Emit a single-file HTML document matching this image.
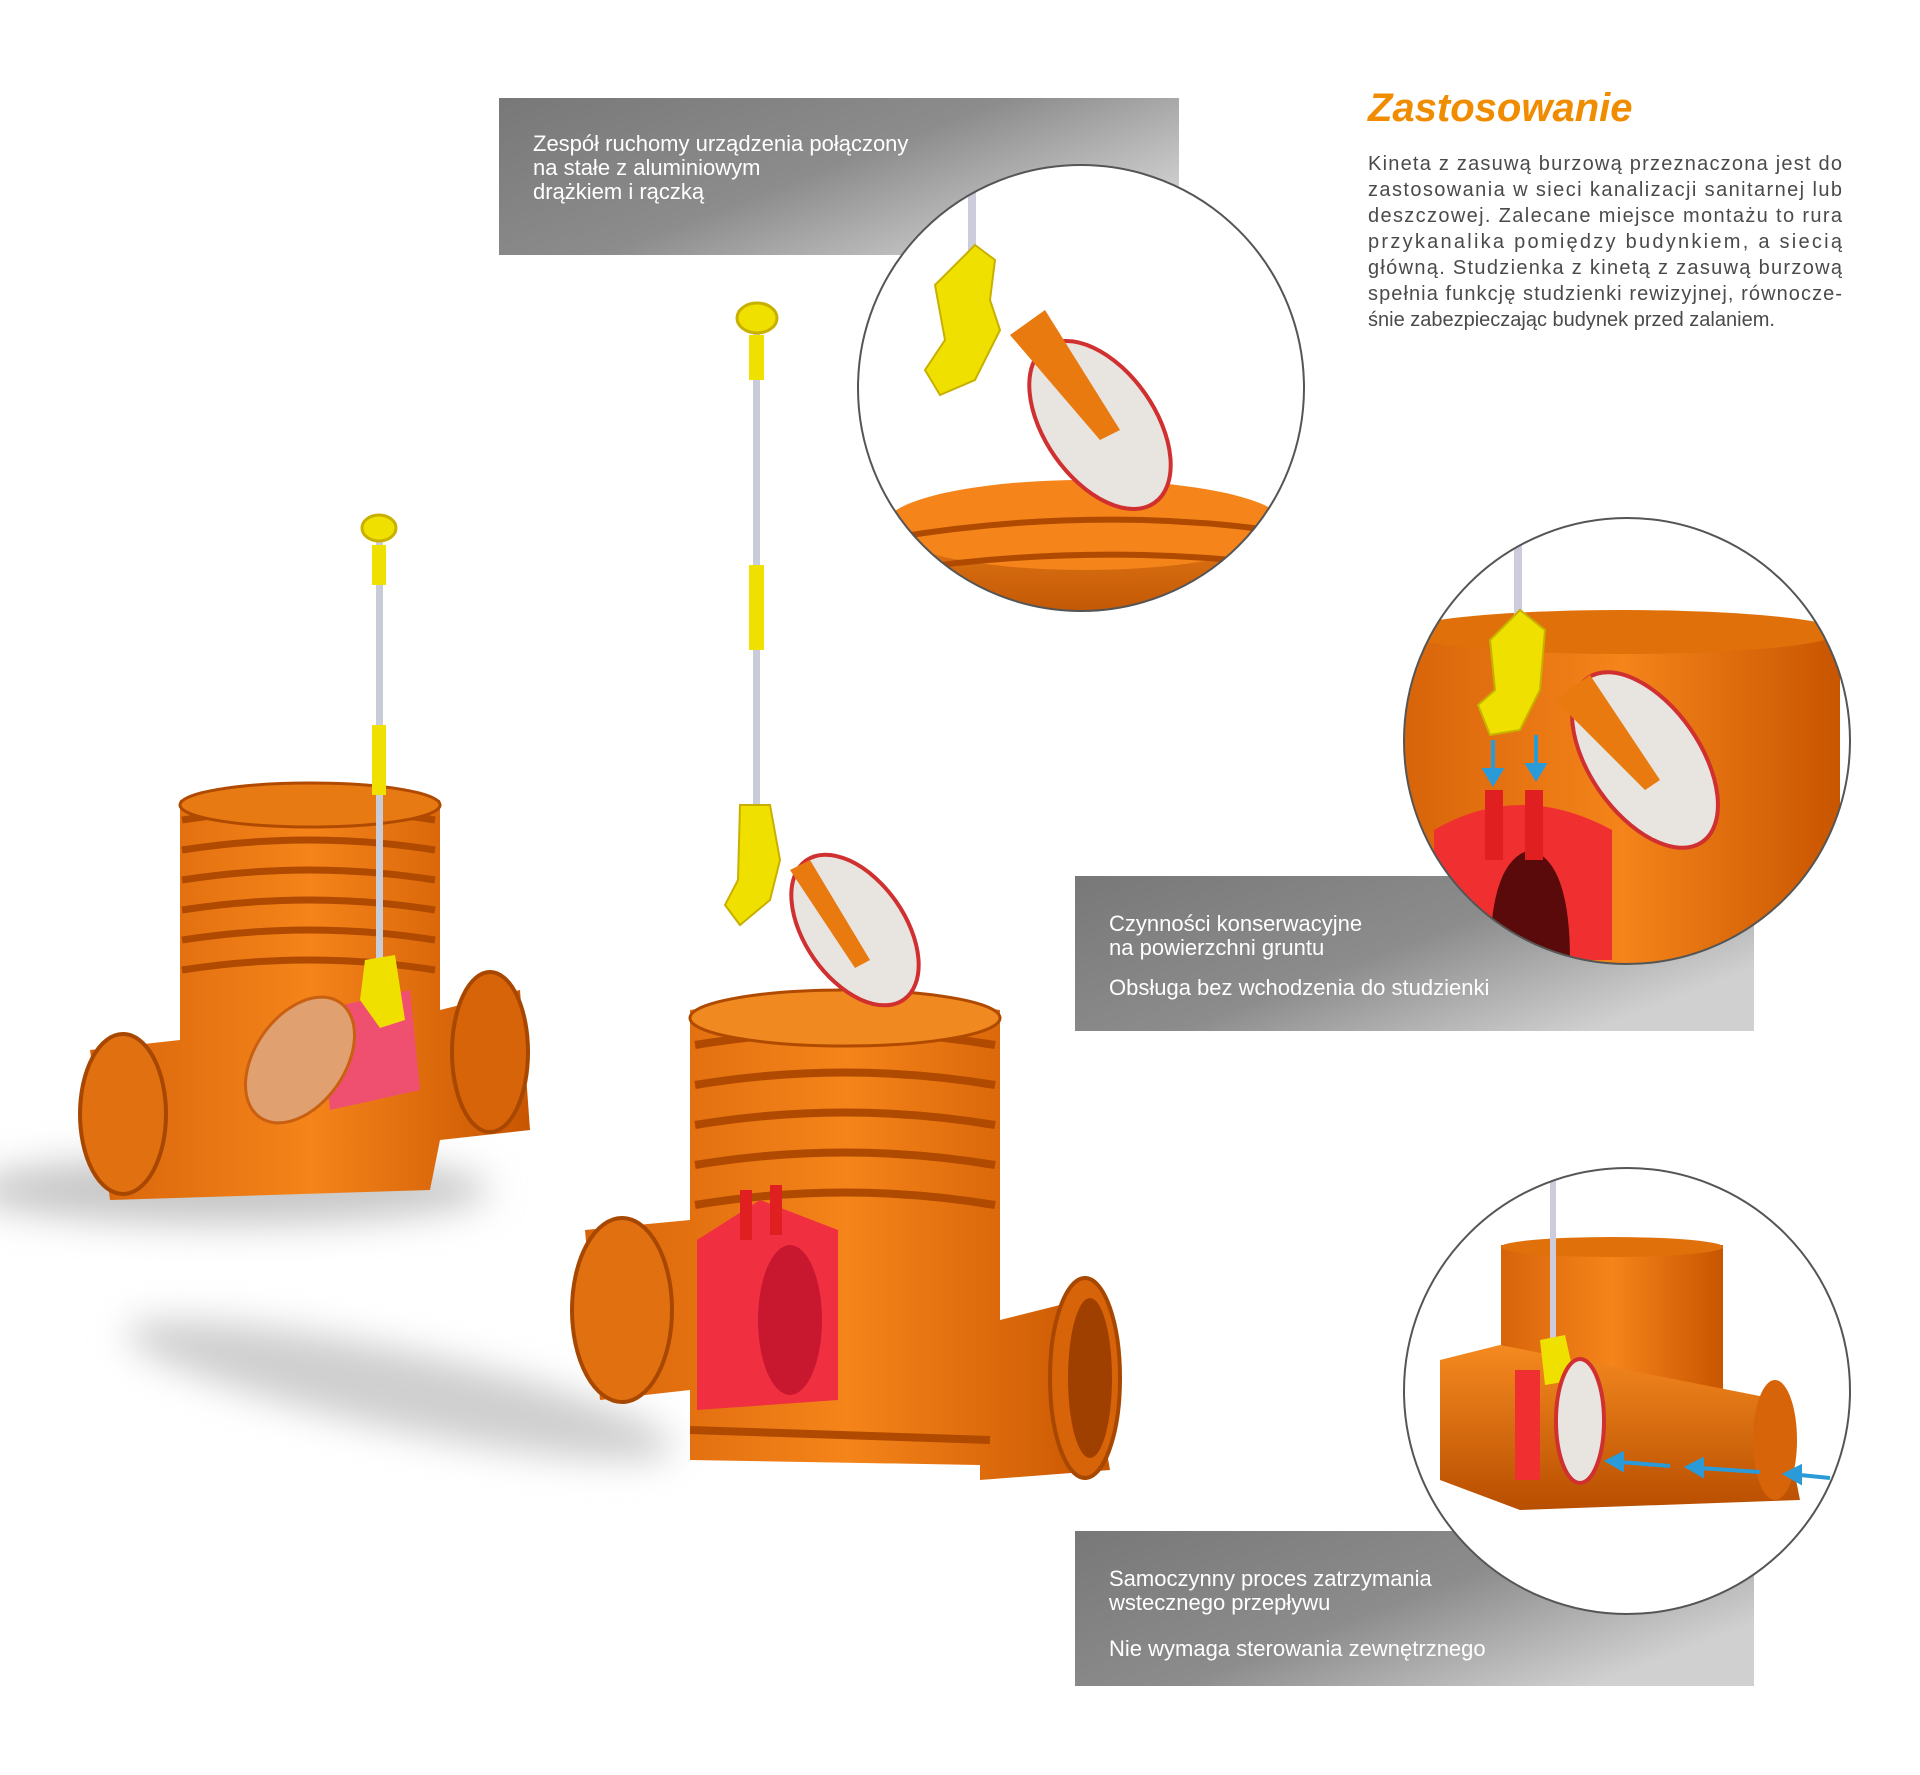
<!DOCTYPE html>
<html><head><meta charset="utf-8"><style>
html,body{margin:0;padding:0;background:#fff}
svg{display:block}
text{font-family:"Liberation Sans","DejaVu Sans",sans-serif}
</style></head><body>
<svg width="1920" height="1775" viewBox="0 0 1920 1775" xmlns="http://www.w3.org/2000/svg">
<defs>
<linearGradient id="gb" x1="0" y1="0" x2="1" y2="0.6">
<stop offset="0" stop-color="#787878"/><stop offset="0.55" stop-color="#8c8c8c"/><stop offset="1" stop-color="#d0d0d0"/></linearGradient>
<linearGradient id="or" x1="0" y1="0" x2="1" y2="0">
<stop offset="0" stop-color="#d8640a"/><stop offset="0.5" stop-color="#f5841a"/><stop offset="1" stop-color="#c85500"/></linearGradient>
<linearGradient id="orv" x1="0" y1="0" x2="0" y2="1">
<stop offset="0" stop-color="#f58a20"/><stop offset="1" stop-color="#b84e00"/></linearGradient>
<filter id="bl" x="-50%" y="-50%" width="200%" height="200%"><feGaussianBlur stdDeviation="18"/></filter>
<clipPath id="c1"><circle cx="1081" cy="388" r="223"/></clipPath>
<clipPath id="c2"><circle cx="1627" cy="741" r="223"/></clipPath>
<clipPath id="c3"><circle cx="1627" cy="1391" r="223"/></clipPath>
</defs>

<ellipse cx="230" cy="1190" rx="260" ry="35" fill="#c8c8c8" filter="url(#bl)"/>
<ellipse cx="400" cy="1390" rx="280" ry="40" fill="#cfcfcf" filter="url(#bl)" transform="rotate(12 400 1390)"/>

<rect x="499" y="98" width="680" height="157" fill="url(#gb)"/>
<rect x="1075" y="876" width="679" height="155" fill="url(#gb)"/>
<rect x="1075" y="1531" width="679" height="155" fill="url(#gb)"/>

<g fill="#fff" font-size="22">
<text x="533" y="151">Zespół ruchomy urządzenia połączony</text>
<text x="533" y="175">na stałe z aluminiowym</text>
<text x="533" y="199">drążkiem i rączką</text>
<text x="1109" y="931">Czynności konserwacyjne</text>
<text x="1109" y="955">na powierzchni gruntu</text>
<text x="1109" y="995">Obsługa bez wchodzenia do studzienki</text>
<text x="1109" y="1586">Samoczynny proces zatrzymania</text>
<text x="1109" y="1610">wstecznego przepływu</text>
<text x="1109" y="1656">Nie wymaga sterowania zewnętrznego</text>
</g>

<text x="1368" y="121" font-size="40" font-style="italic" font-weight="bold" fill="#f08c00">Zastosowanie</text>
<g font-size="20" fill="#4a4a4a">
<text x="1368" y="170" textLength="474" lengthAdjust="spacing">Kineta z zasuwą burzową przeznaczona jest do</text>
<text x="1368" y="196" textLength="474" lengthAdjust="spacing">zastosowania w sieci kanalizacji sanitarnej lub</text>
<text x="1368" y="222" textLength="474" lengthAdjust="spacing">deszczowej. Zalecane miejsce montażu to rura</text>
<text x="1368" y="248" textLength="474" lengthAdjust="spacing">przykanalika pomiędzy budynkiem, a siecią</text>
<text x="1368" y="274" textLength="474" lengthAdjust="spacing">główną. Studzienka z kinetą z zasuwą burzową</text>
<text x="1368" y="300" textLength="474" lengthAdjust="spacing">spełnia funkcję studzienki rewizyjnej, równocze-</text>
<text x="1368" y="326">śnie zabezpieczając budynek przed zalaniem.</text>
</g>

<circle cx="1081" cy="388" r="223" fill="#fff"/>
<g clip-path="url(#c1)">
<ellipse cx="1085" cy="560" rx="220" ry="80" fill="url(#orv)"/>
<ellipse cx="1085" cy="525" rx="200" ry="45" fill="#f5841a"/>
<path d="M880 540 Q1080 505 1270 530" stroke="#b04a00" stroke-width="6" fill="none"/>
<path d="M870 575 Q1080 540 1280 565" stroke="#b04a00" stroke-width="6" fill="none"/>
<rect x="968" y="190" width="8" height="75" fill="#ccd"/>
<path d="M935 285 L975 245 L995 260 L990 300 L1000 330 L975 380 L940 395 L925 370 L945 340 Z" fill="#f0e000" stroke="#c8b000" stroke-width="2"/>
<ellipse cx="1100" cy="425" rx="95" ry="55" transform="rotate(55 1100 425)" fill="#e8e4e0" stroke="#d03030" stroke-width="4"/>
<path d="M1010 335 L1045 310 L1120 430 L1100 440 Z" fill="#e87a10"/>
</g>
<circle cx="1081" cy="388" r="223" fill="none" stroke="#555" stroke-width="2"/>

<circle cx="1627" cy="741" r="223" fill="#fff"/>
<g clip-path="url(#c2)">
<rect x="1405" y="628" width="435" height="340" fill="url(#or)"/>
<ellipse cx="1622" cy="632" rx="218" ry="22" fill="#e0700a"/>
<path d="M1434 960 L1434 830 Q1520 780 1612 830 L1612 960 Z" fill="#f03030"/>
<path d="M1490 960 Q1490 860 1530 850 Q1570 860 1570 960 Z" fill="#5a0a0a"/>
<rect x="1485" y="790" width="18" height="70" fill="#e02020"/>
<rect x="1525" y="790" width="18" height="70" fill="#e02020"/>
<rect x="1514" y="540" width="8" height="90" fill="#ccd"/>
<path d="M1490 640 L1520 610 L1545 630 L1540 690 L1520 730 L1490 735 L1478 705 L1495 690 Z" fill="#f0e000" stroke="#c8b000" stroke-width="2"/>
<ellipse cx="1645" cy="760" rx="100" ry="55" transform="rotate(55 1645 760)" fill="#e8e4e0" stroke="#d03030" stroke-width="4"/>
<path d="M1555 700 L1590 675 L1660 780 L1645 790 Z" fill="#e87a10"/>
<g stroke="#2a9ad8" stroke-width="4" fill="#2a9ad8">
<line x1="1493" y1="740" x2="1493" y2="775"/><path d="M1485 770 L1493 783 L1501 770 Z"/>
<line x1="1536" y1="735" x2="1536" y2="770"/><path d="M1528 765 L1536 778 L1544 765 Z"/>
</g>
</g>
<circle cx="1627" cy="741" r="223" fill="none" stroke="#555" stroke-width="2"/>

<circle cx="1627" cy="1391" r="223" fill="#fff"/>
<g clip-path="url(#c3)">
<rect x="1501" y="1245" width="222" height="160" fill="url(#or)"/>
<ellipse cx="1612" cy="1247" rx="111" ry="10" fill="#e0700a"/>
<path d="M1440 1360 L1500 1345 L1780 1400 L1800 1500 L1520 1510 L1440 1480 Z" fill="url(#orv)"/>
<ellipse cx="1775" cy="1440" rx="22" ry="60" fill="#d8640a"/>
<path d="M1515 1370 L1540 1370 L1540 1480 L1515 1480 Z" fill="#f03030"/>
<rect x="1550" y="1181" width="6" height="160" fill="#ccd"/>
<path d="M1540 1340 L1565 1335 L1575 1380 L1545 1385 Z" fill="#f0e000"/>
<ellipse cx="1580" cy="1421" rx="24" ry="62" fill="#e8e4e0" stroke="#d03030" stroke-width="4"/>
<g stroke="#2a9ad8" stroke-width="4" fill="#2a9ad8">
<line x1="1830" y1="1478" x2="1800" y2="1475"/><path d="M1800 1467 L1786 1474 L1800 1482 Z"/>
<line x1="1760" y1="1472" x2="1700" y2="1468"/><path d="M1702 1460 L1688 1467 L1702 1475 Z"/>
<line x1="1670" y1="1466" x2="1620" y2="1462"/><path d="M1622 1454 L1608 1461 L1622 1469 Z"/>
</g>
</g>
<circle cx="1627" cy="1391" r="223" fill="none" stroke="#555" stroke-width="2"/>

<g>
<path d="M90 1050 L180 1040 L180 800 Q310 770 440 800 L440 1010 L520 990 L530 1130 L440 1140 L430 1190 L110 1200 Z" fill="url(#or)"/>
<g stroke="#b04a00" stroke-width="7" fill="none">
<path d="M182 820 Q310 800 435 820"/><path d="M182 850 Q310 830 435 850"/><path d="M182 880 Q310 860 435 880"/><path d="M182 910 Q310 890 435 910"/><path d="M182 940 Q310 920 435 940"/><path d="M182 970 Q310 950 435 970"/>
</g>
<ellipse cx="310" cy="805" rx="130" ry="22" fill="#e87a14" stroke="#b04a00" stroke-width="3"/>
<ellipse cx="123" cy="1114" rx="43" ry="80" fill="#e07010" stroke="#a84800" stroke-width="4"/>
<ellipse cx="490" cy="1052" rx="38" ry="80" fill="#d8640a" stroke="#a84800" stroke-width="4"/>
<path d="M320 1010 L410 990 L420 1090 L330 1110 Z" fill="#f05070"/>
<ellipse cx="300" cy="1060" rx="45" ry="70" transform="rotate(35 300 1060)" fill="#e0a070" stroke="#c86010" stroke-width="3"/>
<rect x="376" y="540" width="7" height="450" fill="#c8ccd8"/>
<rect x="372" y="725" width="14" height="70" fill="#f0e000"/>
<rect x="372" y="545" width="14" height="40" fill="#f0e000"/>
<ellipse cx="379" cy="528" rx="17" ry="13" fill="#f0e000" stroke="#c8b000" stroke-width="3"/>
<path d="M365 960 L395 955 L405 1020 L380 1028 L360 1000 Z" fill="#f0e000"/>
</g>

<g>
<path d="M690 1010 Q845 985 1000 1010 L1000 1320 L1080 1300 L1110 1470 L980 1480 L980 1465 L690 1460 L690 1390 L600 1400 L585 1230 L690 1220 Z" fill="url(#or)"/>
<g stroke="#b04a00" stroke-width="8" fill="none">
<path d="M695 1045 Q845 1020 995 1045"/><path d="M695 1085 Q845 1060 995 1085"/><path d="M695 1125 Q845 1100 995 1125"/><path d="M695 1165 Q845 1140 995 1165"/><path d="M695 1205 Q845 1180 995 1205"/>
<path d="M690 1430 L990 1440"/>
</g>
<ellipse cx="845" cy="1018" rx="155" ry="28" fill="#f08a20" stroke="#b04a00" stroke-width="3"/>
<ellipse cx="622" cy="1310" rx="50" ry="92" fill="#e07010" stroke="#a84800" stroke-width="4"/>
<ellipse cx="1085" cy="1378" rx="35" ry="100" fill="#d8640a" stroke="#a84800" stroke-width="4"/>
<ellipse cx="1090" cy="1378" rx="22" ry="80" fill="#a04000"/>
<path d="M697 1240 L760 1200 L838 1230 L838 1400 L697 1410 Z" fill="#f03040"/>
<ellipse cx="790" cy="1320" rx="32" ry="75" fill="#c81830"/>
<rect x="740" y="1190" width="12" height="50" fill="#e02020"/>
<rect x="770" y="1185" width="12" height="50" fill="#e02020"/>
<rect x="753" y="330" width="7" height="530" fill="#c8ccd8"/>
<rect x="749" y="565" width="15" height="85" fill="#f0e000"/>
<rect x="749" y="335" width="15" height="45" fill="#f0e000"/>
<ellipse cx="757" cy="318" rx="20" ry="15" fill="#f0e000" stroke="#c8b000" stroke-width="3"/>
<path d="M740 805 L770 805 L780 860 L770 900 L740 925 L725 905 L738 880 Z" fill="#f0e000" stroke="#c8b000" stroke-width="2"/>
<ellipse cx="855" cy="930" rx="50" ry="85" transform="rotate(-35 855 930)" fill="#e8e4e0" stroke="#d03030" stroke-width="4"/>
<path d="M790 870 L810 860 L870 960 L855 968 Z" fill="#e87a10"/>
</g>
</svg>
</body></html>
